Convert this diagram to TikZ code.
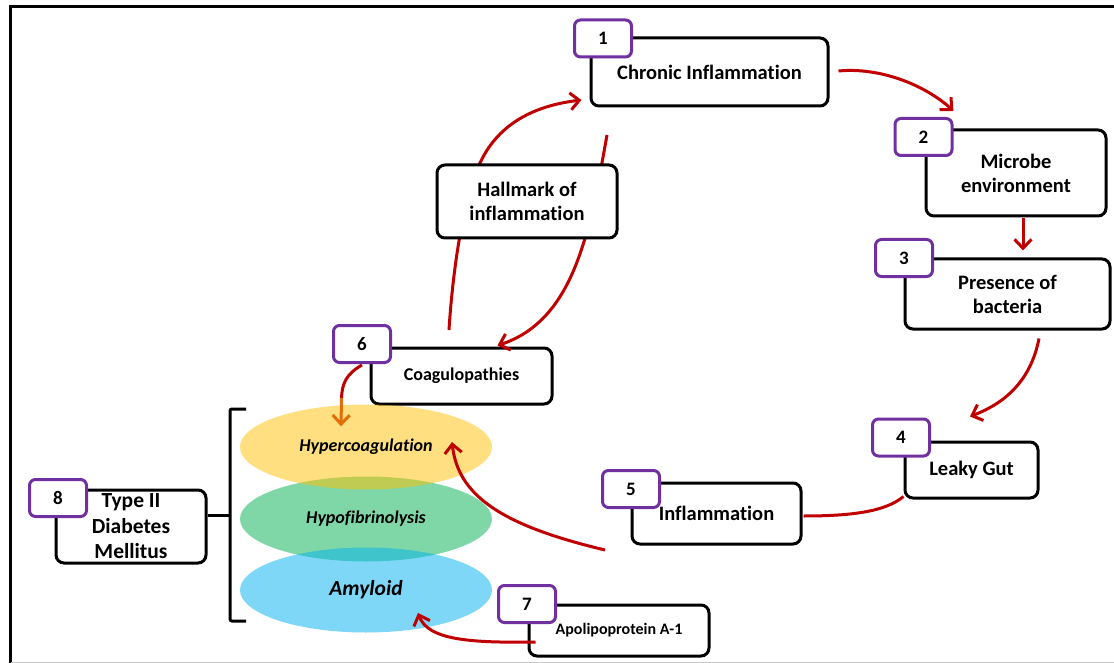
\documentclass[tikz,border=0pt]{standalone}
\usepackage{fontspec}
\setmainfont{Carlito}[Ligatures=NoCommon]
\usetikzlibrary{arrows.meta,shapes.geometric,calc}
\definecolor{linkred}{HTML}{C00000}
\definecolor{linkorange}{HTML}{E36C09}
\definecolor{tagpurple}{HTML}{7030A0}
\definecolor{gold}{HTML}{FFC000}
\definecolor{leaf}{HTML}{00B050}
\definecolor{sky}{HTML}{00B0F0}

\begin{document}
\begin{tikzpicture}[x=1pt,y=-1pt,
  stepbox/.style={draw=black, line width=3pt, rounded corners=8pt, fill=white,
    align=center, inner sep=0pt, font=\bfseries\fontsize{20.5}{24}\selectfont},
  tagbox/.style={draw=tagpurple, line width=3pt, rounded corners=6pt, fill=white,
    minimum width=57pt, minimum height=37pt, inner sep=0pt,
    font=\bfseries\fontsize{19}{22}\selectfont},
  link/.style={draw=linkred, line width=3pt},
  tip/.style={-{Straight Barb[length=9pt,width=17pt]}},
  blob/.style={ellipse, minimum width=252pt, minimum height=85pt, inner sep=0pt,
    fill opacity=0.5, text opacity=1, font=\bfseries\itshape\fontsize{18}{21}\selectfont}
]
\useasboundingbox (0,0) rectangle (1114,663);

% page frame
\draw[line width=3.5pt] (10.5,663) -- (10.5,6.5) -- (1114,6.5);
\draw[gray!45, line width=1.2pt] (10.5,662.3) -- (1114,662.3);

% free ends of the connectors around the hallmark box
\coordinate (upStart) at (449,330);
\coordinate (downStart) at (607,135);

% step boxes
\node[stepbox, minimum width=237pt, minimum height=68pt] (box1) at (709.5,72) {Chronic Inflammation};
\node[stepbox, minimum width=180pt, minimum height=86pt] (box2) at (1016,173) {Microbe\\environment};
\node[stepbox, minimum width=205pt, minimum height=70pt] (box3) at (1007.5,294) {Presence of\\bacteria};
\node[stepbox, minimum width=133pt, minimum height=56pt] (box4) at (971.5,470) {Leaky Gut};
\node[stepbox, minimum width=169pt, minimum height=61pt] (box5) at (716.5,513.5) {Inflammation};
\node[stepbox, minimum width=181pt, minimum height=56pt, font=\bfseries\fontsize{18}{21}\selectfont] (box6) at (461.5,376) {Coagulopathies};
\node[stepbox, minimum width=180pt, minimum height=51pt, font=\bfseries\fontsize{16}{19}\selectfont] (box7) at (619,630.5) {Apolipoprotein A-1};
\node[stepbox, minimum width=150pt, minimum height=73pt, font=\bfseries\fontsize{21.5}{25.5}\selectfont] (box8) at (131,526.5) {Type II\\Diabetes\\Mellitus};

% red links that run behind the hallmark box
\draw[link, tip] (upStart) .. controls (452,280) and (462,200) .. (480,163)
  .. controls (500,120) and (540,105) .. ($(box1.west)+(-8,28)$);
\draw[link, tip] (downStart) .. controls (590,230) and (575,320) .. ($(box6.north east)+(-56,-1)$);

\node[stepbox, minimum width=180pt, minimum height=73pt] (hallmark) at (527,201.5) {Hallmark of\\inflammation};

% number tags
\node[tagbox] (tag1) at (603,38.5) {1};
\node[tagbox] (tag2) at (923.5,137) {2};
\node[tagbox] (tag3) at (904,258) {3};
\node[tagbox] (tag4) at (901,437.5) {4};
\node[tagbox] (tag5) at (631,489) {5};
\node[tagbox] (tag6) at (362,344) {6};
\node[tagbox] (tag7) at (527,604) {7};
\node[tagbox] (tag8) at (58,498) {8};

% overlapping ellipses
\node[blob, fill=leaf] (hypo) at (366,519) {Hypofibrinolysis};
\node[blob, fill=gold] (hyper) at (366,447) {Hypercoagulation};
\node[blob, fill=sky, font=\bfseries\itshape\fontsize{21.5}{25}\selectfont] (amyloid) at (366,590) {Amyloid};

% bracket joining the diabetes box to the ellipses
\coordinate (brk) at (230,515);
\draw[line width=3pt, rounded corners=2pt] (246,409) -- (230,409) -- (230,621) -- (246,621);
\draw[line width=3pt] (box8.east |- brk) -- (brk);

% cycle links
\draw[link, tip] ($(box1.east)+(9,-1)$) .. controls (880,67) and (925,85) .. ($(tag2.north east)+(0,-6)$);
\draw[link, tip] ($(box2.south)+(7,1)$) -- ($(box3.north)+(15.5,-7)$);
\draw[link, tip] ($(box3.south)+(31.5,8)$) .. controls (1030,385) and (1000,405) .. ($(box4.north)+(-1.5,-24)$);
\draw[link] ($(box4.south west)+(0,-3)$) .. controls (885,512) and (850,516) .. ($(box5.east)+(1,2.5)$);

\coordinate (fromInfl) at (605,550);
\draw[link, tip] (fromInfl) .. controls (500,525) and (458,495) .. ($(hyper.center)+(86,-5)$);
\draw[link, tip] ($(box7.west)+(8,11.5)$) .. controls (470,643) and (428,640) .. ($(amyloid.center)+(52,23)$);

% link from tag 6 fading from red to orange
\coordinate (midSix) at (341.5,398);
\draw[link] ($(tag6.south)+(0,1)$) .. controls (346,374) and (342,384) .. (midSix);
\draw[link, draw=linkorange, tip] (midSix) -- ($(hyper.north)+(-25,22)$);

\end{tikzpicture}
\end{document}
